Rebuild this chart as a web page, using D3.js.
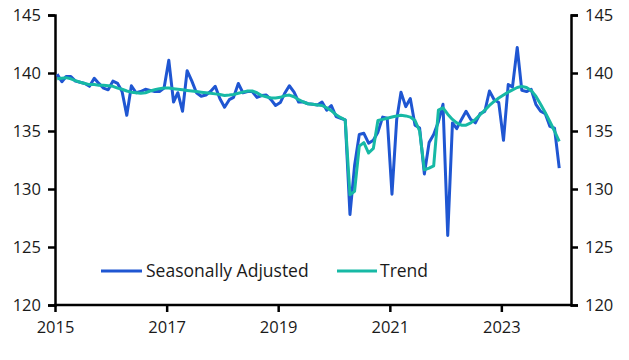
<!DOCTYPE html>
<html><head><meta charset="utf-8">
<script src="https://cdn.jsdelivr.net/npm/d3@7"></script>
<style>
html,body{margin:0;padding:0;background:#fff;}
svg{display:block;}
text{font-family:"Open Sans",sans-serif;fill:#1a1a1a;}
</style></head>
<body><svg id="c" width="629" height="360"></svg>
<script>
// Monthly data, Jan 2015 .. Jan 2024
const startMonth = "2015-01";
const seasonallyAdjusted = [
 139.9,139.25,139.7,139.7,139.3,139.2,139.1,138.85,139.55,139.1,138.7,138.55,
 139.3,139.1,138.4,136.35,138.9,138.3,138.4,138.6,138.5,138.4,138.4,138.7,
 141.1,137.5,138.3,136.7,140.2,139.3,138.3,138.0,138.1,138.4,138.85,137.8,
 137.05,137.7,137.9,139.1,138.3,138.4,138.4,137.9,138.06,138.1,137.7,137.2,
 137.45,138.3,138.9,138.35,137.5,137.5,137.35,137.3,137.25,137.5,136.8,137.2,
 136.25,136.1,135.96,127.8,132.0,134.7,134.8,133.95,134.2,134.9,136.2,136.1,
 129.55,136.0,138.35,137.1,137.8,135.5,135.25,131.3,134.0,134.7,135.8,137.3,
 126.0,135.7,135.2,136.0,136.7,136.0,135.7,136.5,136.7,138.45,137.7,137.45,
 134.2,139.0,138.8,142.2,138.5,138.4,138.6,137.3,136.7,136.5,135.4,135.25,
 131.8
];
const trend = [
 139.5,139.55,139.6,139.5,139.35,139.2,139.1,139.0,139.0,138.95,138.95,138.9,
 138.85,138.7,138.6,138.45,138.35,138.3,138.25,138.3,138.45,138.55,138.65,138.7,
 138.7,138.65,138.6,138.55,138.5,138.45,138.4,138.35,138.3,138.25,138.2,138.15,
 138.06,138.1,138.15,138.25,138.35,138.45,138.45,138.3,138.05,137.95,137.85,137.85,
 137.9,138.05,138.1,137.95,137.7,137.5,137.35,137.3,137.25,137.2,137.0,136.75,
 136.4,136.15,135.95,129.5,129.8,133.7,134.0,133.1,133.5,135.9,136.0,136.1,
 136.2,136.3,136.35,136.3,136.2,135.9,135.0,131.65,131.8,132.0,136.8,137.0,
 136.45,136.0,135.7,135.5,135.5,135.7,136.0,136.4,136.8,137.2,137.55,137.85,
 138.1,138.35,138.55,138.75,138.85,138.75,138.5,138.0,137.3,136.6,135.8,135.0,
 134.1
];
const yTicks = [120,125,130,135,140,145];
const xTickYears = [2015,2017,2019,2021,2023];
const seriesNames = ["Seasonally Adjusted","Trend"];
const colors = ["#1f56d2","#17b9a5"];

const svg = d3.select("#c");
const L = 55, R = 571, T = 15, B = 305;
const parse = d3.timeParse("%Y-%m");
const d0 = parse(startMonth);
const months = seasonallyAdjusted.map((_, i) => d3.timeDay.offset(d3.timeMonth.offset(d0, i), 14));

const x = d3.scaleTime().domain([new Date(2015,0,1), new Date(2024,3,1)]).range([L, R]);
const y = d3.scaleLinear().domain([120,145]).range([B, T]);

// axes
const gL = svg.append("g").attr("transform", `translate(${L},0)`)
  .call(d3.axisLeft(y).tickValues(yTicks).tickSize(7).tickPadding(7).tickFormat(d3.format("d")));
const gR = svg.append("g").attr("transform", `translate(${R},0)`)
  .call(d3.axisRight(y).tickValues(yTicks).tickSize(7).tickPadding(7).tickFormat(d3.format("d")));
const gB = svg.append("g").attr("transform", `translate(0,${B})`)
  .call(d3.axisBottom(x).tickValues(xTickYears.map(v => new Date(v,0,1))).tickSize(7).tickPadding(9).tickFormat(d3.timeFormat("%Y")));
[gL,gR,gB].forEach(g => {
  g.select(".domain").attr("stroke","#000").attr("stroke-width",2.5);
  g.selectAll(".tick line").attr("stroke","#000").attr("stroke-width",2.5);
  g.selectAll("text").attr("font-size",16.5).attr("fill","#1a1a1a").attr("font-family","'Open Sans',sans-serif");
});
gB.select(".domain").attr("d", `M${L-1},0H${R+1}`);

// lines
const series = [seasonallyAdjusted, trend];
series.forEach((s, k) => {
  const line = d3.line().x((d,i) => x(months[i])).y(d => y(d));
  svg.append("path").datum(s)
    .attr("fill","none").attr("stroke",colors[k]).attr("stroke-width",3)
    .attr("stroke-linejoin","round").attr("d", line);
});

// legend
const leg = [{x1:101,x2:142,tx:146},{x1:337,x2:377,tx:380}];
leg.forEach((p,k) => {
  svg.append("line").attr("x1",p.x1).attr("x2",p.x2).attr("y1",271).attr("y2",271)
    .attr("stroke",colors[k]).attr("stroke-width",3);
  svg.append("text").attr("x",p.tx).attr("y",277).attr("font-size",17.5).text(seriesNames[k]);
});
</script></body></html>
